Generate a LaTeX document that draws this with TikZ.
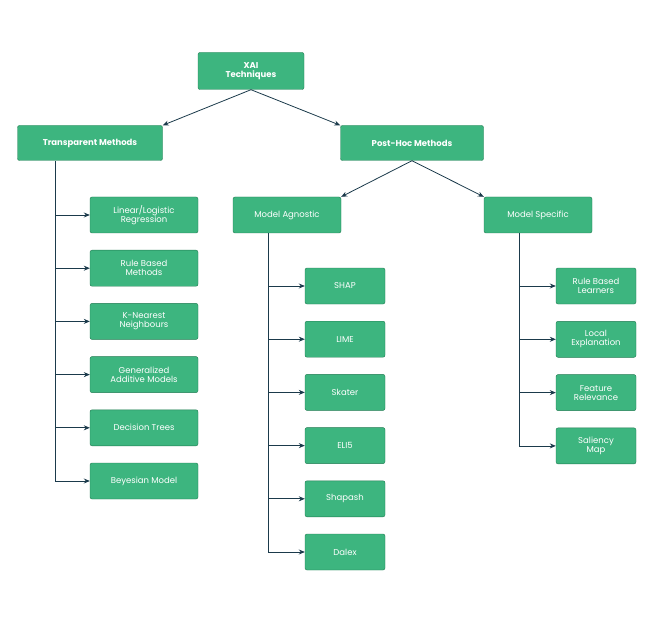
\documentclass[tikz,border=0pt]{standalone}
\usepackage{fontspec}
\setmainfont{Poppins}
\usetikzlibrary{arrows.meta,positioning}
\definecolor{boxgreen}{HTML}{3DB57F}
\definecolor{boxedge}{HTML}{1F7A50}
\definecolor{linkblue}{HTML}{1B3A4B}

\begin{document}
\begin{tikzpicture}[
  x=1pt,y=-1pt,
  box/.style={draw=boxedge,fill=boxgreen,rounded corners=2pt,text=white,
    align=center,font=\fontsize{8.5}{9}\selectfont,inner sep=2pt},
  head/.style={box,font=\fontsize{8.5}{9}\selectfont\bfseries},
  link/.style={draw=linkblue,line width=0.8pt,-{Stealth[length=6pt,width=5pt]}},
  trunk/.style={draw=linkblue,line width=0.8pt},
  ]
  \useasboundingbox (0,0) rectangle (650,620);

  \node[head,minimum width=106,minimum height=37] (xai) at (251,71) {XAI\\Techniques};
  \node[head,minimum width=145,minimum height=35] (trans) at (90,143) {Transparent Methods};
  \node[head,minimum width=143,minimum height=35] (post) at (412,143) {Post-Hoc Methods};
  \node[box,minimum width=108,minimum height=36] (agn) at (287,215) {Model Agnostic};
  \node[box,minimum width=108,minimum height=36] (spec) at (538,215) {Model Specific};

  \draw[link] (xai.south) -- (trans.north east);
  \draw[link] (xai.south) -- (post.north west);
  \draw[link] (post.south) -- (agn.north east);
  \draw[link] (post.south) -- (spec.north west);

  % transparent methods
  \coordinate (tt) at (55,161);
  \foreach \t [count=\i] in {Linear/Logistic\\Regression,Rule Based\\Methods,
      K-Nearest\\Neighbours,Generalized\\Additive Models,Decision Trees,Beyesian Model}
  {
    \node[box,minimum width=108,minimum height=36] (tm\i) at (144,{215+53.2*(\i-1)}) {\t};
    \draw[link] (tt |- tm\i) -- (tm\i.west);
  }
  \draw[trunk] (tt) -- (tt |- tm6);

  % model agnostic
  \coordinate (at) at (268,233);
  \foreach \t [count=\i] in {SHAP,LIME,Skater,ELI5,Shapash,Dalex}
  {
    \node[box,minimum width=80,minimum height=36] (am\i) at (345,{286+53.2*(\i-1)}) {\t};
    \draw[link] (at |- am\i) -- (am\i.west);
  }
  \draw[trunk] (at) -- (at |- am6);

  % model specific
  \coordinate (st) at (519,233);
  \foreach \t [count=\i] in {Rule Based\\Learners,Local\\Explanation,Feature\\Relevance,Saliency\\Map}
  {
    \node[box,minimum width=80,minimum height=36] (sm\i) at (596,{286+53.3*(\i-1)}) {\t};
    \draw[link] (st |- sm\i) -- (sm\i.west);
  }
  \draw[trunk] (st) -- (st |- sm4);
\end{tikzpicture}
\end{document}
